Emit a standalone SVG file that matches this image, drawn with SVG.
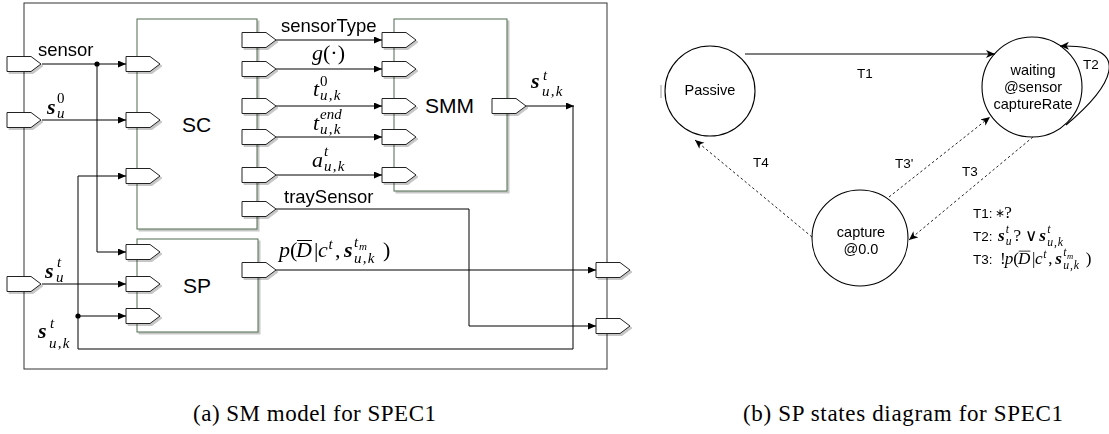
<svg xmlns="http://www.w3.org/2000/svg" xmlns:xlink="http://www.w3.org/1999/xlink" width="1109" height="434" viewBox="0 0 1109 434">
<style>
.frame{fill:none;stroke:#333;stroke-width:1}
.blk{fill:#fff;stroke:#4e6b4e;stroke-width:1}
.port{fill:#fff;stroke:#222;stroke-width:1}
.ln{fill:none;stroke:#000;stroke-width:1}
.dash{fill:none;stroke:#222;stroke-width:1;stroke-dasharray:2.5,2.5}
.st{fill:none;stroke:#000;stroke-width:1.1}
.sans{font-family:"Liberation Sans",Arial,sans-serif;fill:#000}
.l18{font-size:18.5px}
.l21{font-size:21px}
.l14{font-size:14.5px}
.l13{font-size:13.5px}
.mr{font-family:"Liberation Serif","Times New Roman",serif;font-style:normal;fill:#000}
.mi{font-family:"Liberation Serif","Times New Roman",serif;font-style:italic;fill:#000}
.mb{font-family:"Liberation Serif","Times New Roman",serif;font-style:italic;font-weight:bold;fill:#000}
.m{font-size:22px}
.s{font-size:15px}
.ss{font-size:11px}
.uk{letter-spacing:1.2px}
.cap{font-family:"Liberation Serif","Times New Roman",serif;font-size:23px;fill:#000}
</style>
<defs>
<filter id="sh" x="-20%" y="-20%" width="140%" height="140%">
<feDropShadow dx="2" dy="2" stdDeviation="0.7" flood-color="#000" flood-opacity="0.22"/>
</filter>
<path id="port" class="port" d="M0,-7.5 H24 L34,0 L24,7.5 H0 Z"/>
<marker id="ah" markerUnits="userSpaceOnUse" markerWidth="9" markerHeight="8" refX="8" refY="3.5" orient="auto">
<path d="M0,0 L8,3.5 L0,7 Z" fill="#000"/>
</marker>
<marker id="ac" markerUnits="userSpaceOnUse" markerWidth="11" markerHeight="10" refX="9" refY="4" orient="auto">
<path d="M0,0 L9,4 L0,8 L2.5,4 Z" fill="#000"/>
</marker>
</defs>
<rect width="1109" height="434" fill="#fff"/>

<!-- outer frame of SM model -->
<rect id="frame" class="frame" x="24" y="3" width="583" height="366"/>

<!-- SC -->
<g id="SC">
<rect class="blk" x="137" y="19" width="120" height="210" filter="url(#sh)"/>
<text class="sans l21" x="182" y="132">SC</text>
<g filter="url(#sh)">
<use xlink:href="#port" x="126" y="64"/>
<use xlink:href="#port" x="126" y="120"/>
<use xlink:href="#port" x="126" y="176"/>
<use xlink:href="#port" x="242" y="40"/>
<use xlink:href="#port" x="242" y="69"/>
<use xlink:href="#port" x="242" y="106"/>
<use xlink:href="#port" x="242" y="137"/>
<use xlink:href="#port" x="242" y="175"/>
<use xlink:href="#port" x="242" y="209"/>
</g>
</g>

<!-- SP -->
<g id="SP">
<rect class="blk" x="137" y="239" width="121" height="93" filter="url(#sh)"/>
<text class="sans l21" x="183" y="293">SP</text>
<g filter="url(#sh)">
<use xlink:href="#port" x="126" y="252"/>
<use xlink:href="#port" x="126" y="284"/>
<use xlink:href="#port" x="126" y="316"/>
<use xlink:href="#port" x="242" y="270"/>
</g>
</g>

<!-- SMM -->
<g id="SMM">
<rect class="blk" x="394" y="19" width="113" height="172" filter="url(#sh)"/>
<text class="sans l21" x="425" y="113">SMM</text>
<g filter="url(#sh)">
<use xlink:href="#port" x="382" y="40"/>
<use xlink:href="#port" x="382" y="69"/>
<use xlink:href="#port" x="382" y="106"/>
<use xlink:href="#port" x="382" y="137"/>
<use xlink:href="#port" x="382" y="175"/>
<use xlink:href="#port" x="492" y="106"/>
</g>
</g>

<!-- external io ports -->
<g id="io" filter="url(#sh)">
<use xlink:href="#port" x="7" y="64"/>
<use xlink:href="#port" x="7" y="120"/>
<use xlink:href="#port" x="7" y="284"/>
<use xlink:href="#port" x="596" y="270"/>
<use xlink:href="#port" x="596" y="326"/>
</g>

<!-- state nodes -->
<g id="Passive">
<circle class="st" cx="710" cy="91" r="45" fill="#fff"/>
<text class="sans l14" x="710" y="95" text-anchor="middle">Passive</text>
<line x1="661" y1="85" x2="661" y2="98" stroke="#999" stroke-width="1"/>
</g>
<g id="waiting">
<circle class="st" cx="1032" cy="87" r="50" fill="#fff"/>
<text class="sans l14" x="1033" y="75" text-anchor="middle">waiting</text>
<text class="sans l14" x="1033" y="92" text-anchor="middle">@sensor</text>
<text class="sans l14" x="1033" y="109" text-anchor="middle">captureRate</text>
</g>
<g id="capture">
<circle class="st" cx="860" cy="238" r="48" fill="#fff"/>
<text class="sans l14" x="861" y="237" text-anchor="middle">capture</text>
<text class="sans l14" x="861" y="254" text-anchor="middle">@0.0</text>
</g>

<!-- connectors -->
<g id="connectors">
<path class="ln" d="M42,64 H126" marker-end="url(#ah)"/>
<path class="ln" d="M97,64 V252 H126" marker-end="url(#ah)"/>
<path class="ln" d="M42,120 H126" marker-end="url(#ah)"/>
<path class="ln" d="M42,284 H126" marker-end="url(#ah)"/>
<path class="ln" d="M276,40 H382" marker-end="url(#ah)"/>
<path class="ln" d="M276,69 H382" marker-end="url(#ah)"/>
<path class="ln" d="M276,106 H382" marker-end="url(#ah)"/>
<path class="ln" d="M276,137 H382" marker-end="url(#ah)"/>
<path class="ln" d="M276,175 H382" marker-end="url(#ah)"/>
<path class="ln" d="M526,106 H574" marker-end="url(#ah)"/>
<path class="ln" d="M573,106 V349 H78 V176 H126" marker-end="url(#ah)"/>
<path class="ln" d="M78,316 H126" marker-end="url(#ah)"/>
<path class="ln" d="M276,270 H596" marker-end="url(#ah)"/>
<path class="ln" d="M276,209 H469 V326 H596" marker-end="url(#ah)"/>
<circle cx="97" cy="64" r="2.6" fill="#000"/>
<circle cx="78" cy="316" r="2.6" fill="#000"/>

<path class="st" d="M745,54 H995" marker-end="url(#ac)"/>
<path class="st" d="M1066,125 C1108,90 1140,44 1060,46" marker-end="url(#ac)"/>
<path class="dash" d="M889,197 L990,117" marker-end="url(#ac)"/>
<path class="dash" d="M1033,137 L909,240" marker-end="url(#ac)"/>
<path class="dash" d="M812,237 L695,140" marker-end="url(#ac)"/>
</g>

<!-- connector labels (left) -->
<g id="labels-left">
<text class="sans l18" x="38" y="56">sensor</text>
<text class="sans l18" x="281" y="32">sensorType</text>
<text class="sans l18" x="284" y="203">traySensor</text>

<!-- s_u^0 -->
<text class="mb m" x="47" y="114">s</text>
<text class="mr s" x="57" y="103">0</text>
<text class="mi s" x="57" y="118">u</text>

<!-- g(.) -->
<text class="mr m" x="312" y="60"><tspan class="mi">g</tspan>(·)</text>

<!-- t_{u,k}^0 -->
<text class="mi m" x="313" y="96">t</text>
<text class="mr s" x="320" y="86">0</text>
<text class="mi s uk" x="320" y="100">u,k</text>

<!-- t_{u,k}^{end} -->
<text class="mi m" x="313" y="130">t</text>
<text class="mi s" x="320" y="119">end</text>
<text class="mi s uk" x="320" y="134">u,k</text>

<!-- a_{u,k}^t -->
<text class="mi m" x="312" y="167">a</text>
<text class="mi s" x="324" y="156">t</text>
<text class="mi s uk" x="324" y="171">u,k</text>

<!-- s_{u,k}^t at SMM output -->
<text class="mb m" x="531" y="88">s</text>
<text class="mi s" x="543" y="80">t</text>
<text class="mi s uk" x="542" y="96">u,k</text>

<!-- s_u^t left -->
<text class="mb m" x="45" y="278">s</text>
<text class="mi s" x="57" y="267">t</text>
<text class="mi s" x="56" y="282">u</text>

<!-- s_{u,k}^t bottom left -->
<text class="mb m" x="38" y="338">s</text>
<text class="mi s" x="50" y="328">t</text>
<text class="mi s uk" x="49" y="348">u,k</text>

<!-- p(D|c^t, s^{t_m}_{u,k}) -->
<g transform="translate(279,257)">
<text class="mi m" x="0" y="0">p</text>
<text class="mr m" x="11" y="0">(</text>
<text class="mi m" x="17" y="0">D</text>
<line x1="18" y1="-16.5" x2="33" y2="-16.5" stroke="#000" stroke-width="1"/>
<text class="mr m" x="35" y="0">|</text>
<text class="mi m" x="39" y="0">c</text>
<text class="mi s" x="49.5" y="-8">t</text>
<text class="mr m" x="56" y="0">,</text>
<text class="mb m" x="65" y="0">s</text>
<text class="mi s" x="75" y="-10">t</text>
<text class="mi ss" x="80" y="-7">m</text>
<text class="mi s uk" x="75" y="6">u,k</text>
<text class="mr m" x="104" y="0">)</text>
</g>
</g>

<!-- labels right -->
<g id="labels-right">
<text class="sans l13" x="857" y="78">T1</text>
<text class="sans l13" x="1083" y="69">T2</text>
<text class="sans l13" x="895" y="168">T3'</text>
<text class="sans l13" x="962" y="176">T3</text>
<text class="sans l13" x="753" y="167">T4</text>

<text class="sans l13" x="973" y="218">T1:</text>
<g transform="translate(995,218) scale(0.78)">
<text class="mr" font-size="15" x="0" y="-1">∗</text>
<text class="mr m" x="12" y="0">?</text>
</g>

<text class="sans l13" x="973" y="241">T2:</text>
<g transform="translate(998,241) scale(0.78)">
<text class="mb m" x="0" y="0">s</text>
<text class="mi s" x="10" y="-10">t</text>
<text class="mi s" x="10" y="5">u</text>
<text class="mr m" x="20" y="0">?</text>
<text class="mr m" x="35" y="0">∨</text>
<text class="mb m" x="53" y="0">s</text>
<text class="mi s" x="63" y="-10">t</text>
<text class="mi s uk" x="63" y="6">u,k</text>
</g>

<text class="sans l13" x="973" y="264">T3:</text>
<g transform="translate(1000,264) scale(0.78)">
<text class="mr m" x="0" y="0">!</text>
<g transform="translate(6,0)">
<text class="mi m" x="0" y="0">p</text>
<text class="mr m" x="11" y="0">(</text>
<text class="mi m" x="17" y="0">D</text>
<line x1="18" y1="-16.5" x2="33" y2="-16.5" stroke="#000" stroke-width="1"/>
<text class="mr m" x="35" y="0">|</text>
<text class="mi m" x="39" y="0">c</text>
<text class="mi s" x="49.5" y="-8">t</text>
<text class="mr m" x="56" y="0">,</text>
<text class="mb m" x="65" y="0">s</text>
<text class="mi s" x="75" y="-10">t</text>
<text class="mi ss" x="80" y="-7">m</text>
<text class="mi s uk" x="75" y="6">u,k</text>
<text class="mr m" x="104" y="0">)</text>
</g>
</g>
</g>

<!-- captions -->
<text class="cap" x="193" y="421" textLength="243" lengthAdjust="spacing">(a) SM model for SPEC1</text>
<text class="cap" x="743" y="421" textLength="320" lengthAdjust="spacing">(b) SP states diagram for SPEC1</text>
</svg>
